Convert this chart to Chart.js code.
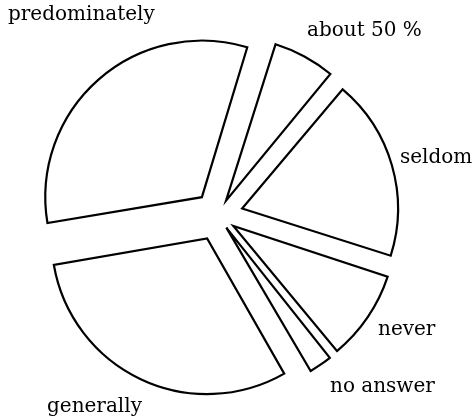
<!DOCTYPE html>
<html>
<head>
<meta charset="utf-8">
<title>Pie</title>
<script src="https://cdn.jsdelivr.net/npm/chart.js"></script>
<style>
  html, body { margin: 0; padding: 0; background: #fff; }
  canvas { display: block; }
</style>
</head>
<body>
<canvas id="pie" width="473" height="418"></canvas>
<script>
// answers, clockwise starting at about 17 degrees past 12 o'clock
const categories = ['about 50 %', 'seldom', 'never', 'no answer', 'generally', 'predominately'];
const shares = [6.4, 18.8, 9.2, 2.6, 30.6, 32.4];

// where each label text sits (left edge, baseline)
const labelPos = [
  [307, 36], [400, 163], [378, 335], [330, 392], [47, 412], [8, 20]
];

const PUSH = 27; // how far every slice is pulled out, px

// chart.js moves an arc by offset/4 * (2 - sin(circ)), so invert that
function sliceOffset(ctx) {
  const total = ctx.dataset.data.reduce((a, b) => a + b, 0);
  const circ = ctx.parsed / total * Math.PI * 2;
  const fix = 1 - Math.sin(Math.min(Math.PI, circ));
  return 4 * PUSH / (1 + fix);
}

const labelPlugin = {
  id: 'labels',
  afterDraw(chart) {
    const ctx = chart.ctx;
    ctx.save();
    ctx.fillStyle = '#000';
    ctx.font = '20px "DejaVu Serif"';
    ctx.textAlign = 'left';
    ctx.textBaseline = 'alphabetic';
    chart.data.labels.forEach((t, i) => {
      ctx.fillText(t, labelPos[i][0], labelPos[i][1]);
    });
    ctx.restore();
  }
};

new Chart(document.getElementById('pie'), {
  type: 'pie',
  data: {
    labels: categories,
    datasets: [{
      data: shares,
      backgroundColor: '#fff',
      borderColor: '#000',
      borderWidth: 2.2,
      borderJoinStyle: 'miter',
      offset: sliceOffset
    }]
  },
  options: {
    responsive: false,
    animation: false,
    events: [],
    rotation: 17,
    radius: 154,
    layout: { padding: { left: 0, right: 37, top: 13, bottom: 0 } },
    plugins: {
      legend: { display: false },
      tooltip: { enabled: false }
    }
  },
  plugins: [labelPlugin]
});
</script>
</body>
</html>
